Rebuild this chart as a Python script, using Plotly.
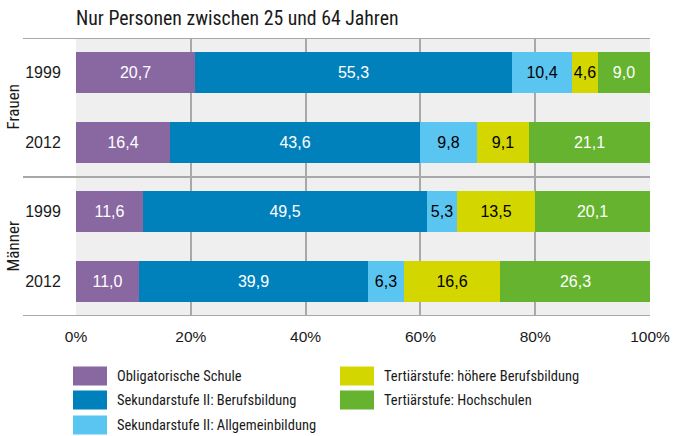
import plotly.graph_objects as go

title = "Nur Personen zwischen 25 und 64 Jahren"
groups = ["Frauen", "Männer"]
years = ["1999", "2012", "1999", "2012"]
row_group = ["Frauen", "Frauen", "Männer", "Männer"]

series_names = [
    "Obligatorische Schule",
    "Sekundarstufe II: Berufsbildung",
    "Sekundarstufe II: Allgemeinbildung",
    "Tertiärstufe: höhere Berufsbildung",
    "Tertiärstufe: Hochschulen",
]
obligatorisch = [20.7, 16.4, 11.6, 11.0]
sek_beruf = [55.3, 43.6, 49.5, 39.9]
sek_allg = [10.4, 9.8, 5.3, 6.3]
tert_hoehere = [4.6, 9.1, 13.5, 16.6]
tert_hoch = [9.0, 21.1, 20.1, 26.3]
series_values = [obligatorisch, sek_beruf, sek_allg, tert_hoehere, tert_hoch]

colors = ["#8968a2", "#0081bc", "#5bc5f2", "#d4d600", "#65b32e"]
text_colors = ["white", "white", "black", "black", "white"]

x_ticks = [0, 20, 40, 60, 80, 100]

NARROW = "Roboto Condensed, Liberation Sans Narrow, Arial Narrow, sans-serif"
NUM = "Liberation Sans, Arial, sans-serif"

ypos = list(range(len(years)))

fig = go.Figure()
for name, vals, c, tc in zip(series_names, series_values, colors, text_colors):
    fig.add_trace(go.Bar(
        y=ypos, x=vals, orientation="h", name=name,
        marker=dict(color=c, line=dict(width=0)),
        width=0.59,
        text=vals, texttemplate="%{x:.1f}", textposition="inside",
        insidetextanchor="middle", textangle=0,
        textfont=dict(color=tc, size=16, family=NUM),
        showlegend=False, hoverinfo="skip",
    ))

W, H = 676, 436
ml, mr, mt, mb = 76, 26, 38, 120
pw = W - ml - mr
ph = H - mt - mb

def px(x):
    return (x - ml) / pw

def py(y):
    return (H - mb - y) / ph

shapes = []
for yv in [-0.5, 1.5, 3.5]:
    shapes.append(dict(type="line", xref="paper", yref="y", x0=px(23), x1=1, y0=yv, y1=yv,
                       line=dict(color="#a8a8a8", width=2), layer="above"))

annotations = [
    dict(text=title, xref="paper", yref="paper", x=px(74), y=py(18), xanchor="left",
         yanchor="middle", showarrow=False, font=dict(size=19.8, color="#1a1a1a", family=NARROW)),
]
for g in groups:
    idx = [i for i, r in enumerate(row_group) if r == g]
    annotations.append(dict(text=g, xref="paper", yref="y", x=px(12), y=sum(idx) / len(idx),
                            textangle=-90, showarrow=False, xanchor="center", yanchor="middle",
                            font=dict(size=17, color="#1a1a1a", family=NARROW)))

# manual legend
leg_cols = [(73, 107, 115), (340, 374, 382)]
leg_rows = [376, 400, 425]
order = [(0, 0, 0), (1, 0, 1), (2, 0, 2), (3, 1, 0), (4, 1, 1)]
for si, col, row in order:
    x0, x1, xt = leg_cols[col]
    yc = leg_rows[row]
    shapes.append(dict(type="rect", xref="paper", yref="paper", x0=px(x0), x1=px(x1),
                       y0=py(yc - 9.5), y1=py(yc + 9.5), fillcolor=colors[si],
                       line=dict(width=0)))
    annotations.append(dict(text=series_names[si], xref="paper", yref="paper", x=px(xt),
                            y=py(yc), xanchor="left", yanchor="middle", showarrow=False,
                            font=dict(size=14.5, color="#1a1a1a", family=NARROW)))

fig.update_layout(
    width=W, height=H,
    margin=dict(l=ml, r=mr, t=mt, b=mb),
    barmode="stack",
    bargap=0,
    separators=",.",
    paper_bgcolor="white",
    plot_bgcolor="#efefef",
    font=dict(family=NUM, color="#1a1a1a", size=16),
    uniformtext=dict(minsize=16, mode="show"),
    shapes=shapes,
    annotations=annotations,
    xaxis=dict(range=[0, 100], tickvals=x_ticks, ticktext=[f"{v}%" for v in x_ticks],
               showgrid=True, gridcolor="#a8a8a8", gridwidth=2, zeroline=False,
               showline=False, ticks="outside", ticklen=6, tickcolor="rgba(0,0,0,0)",
               tickfont=dict(size=15.5, family=NUM), fixedrange=True, automargin=False),
    yaxis=dict(range=[3.5, -0.5], tickvals=ypos, ticktext=years, showgrid=False,
               zeroline=False, showline=False, ticks="outside", ticklen=11,
               tickcolor="rgba(0,0,0,0)", tickfont=dict(size=16, family=NUM), automargin=False,
               fixedrange=True),
)

fig.write_html("out.html", config={"displayModeBar": False},
               post_script="document.body.style.margin='0';document.body.style.padding='0';")
